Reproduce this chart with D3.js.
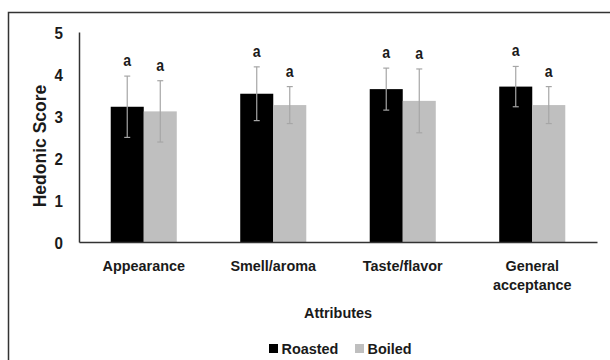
<!DOCTYPE html>
<html lang="en">
<head>
<meta charset="UTF-8">
<title>Hedonic Score</title>
<script src="https://d3js.org/d3.v7.min.js"></script>
<style>
  body { margin: 0; background: #fff; }
  text { font-family: "Liberation Sans", Arial, sans-serif; font-weight: bold; fill: #1a1a1a; }
</style>
</head>
<body>
<div id="chart"></div>
<script>
// data
var attributes = ["Appearance", "Smell/aroma", "Taste/flavor", "General acceptance"];
var series = ["Roasted", "Boiled"];
var roasted = [3.22, 3.53, 3.64, 3.70];
var roastedErr = [0.73, 0.64, 0.50, 0.48];
var boiled = [3.11, 3.26, 3.36, 3.26];
var boiledErr = [0.73, 0.44, 0.76, 0.44];
var letters = [["a", "a"], ["a", "a"], ["a", "a"], ["a", "a"]];
var yTicks = [0, 1, 2, 3, 4, 5];

var W = 610, H = 360;
var margin = {top: 32, right: 13, bottom: 118, left: 79},
  width = W - margin.left - margin.right,
  height = H - margin.top - margin.bottom;

// slightly narrowed text (the original font is a narrow Arial)
function addText(parent, x, y, str, size, anchor, sx) {
  return parent.append("text")
    .attr("transform", "translate(" + x + "," + y + ") scale(" + (sx || 0.93) + ",1)")
    .attr("text-anchor", anchor || "middle")
    .style("font-size", size + "px")
    .text(str);
}

var svg = d3.select("#chart").append("svg")
  .attr("width", W)
  .attr("height", H);

// frame (only top and left edges visible)
svg.append("path")
  .attr("d", "M8.5,360 V12.5 H610")
  .attr("fill", "none")
  .attr("stroke", "#333")
  .attr("stroke-width", 1.5);

var g = svg.append("g")
  .attr("transform", "translate(" + margin.left + "," + margin.top + ")");

var x = d3.scaleBand().domain(attributes).range([0, width]).paddingInner(0.49).paddingOuter(0.245);
var xs = d3.scaleBand().domain(series).range([0, x.bandwidth()]);
var y = d3.scaleLinear().domain([0, 5]).range([height, 0]);
var colors = {Roasted: "#000000", Boiled: "#bfbfbf"};

var rows = [];
attributes.forEach(function(a, i) {
  rows.push({attr: a, s: "Roasted", v: roasted[i], e: roastedErr[i], l: letters[i][0]});
  rows.push({attr: a, s: "Boiled", v: boiled[i], e: boiledErr[i], l: letters[i][1]});
});

// bars
g.selectAll(".bar").data(rows).enter().append("rect")
  .attr("x", function(d) { return x(d.attr) + xs(d.s); })
  .attr("y", function(d) { return y(d.v); })
  .attr("width", xs.bandwidth())
  .attr("height", function(d) { return height - y(d.v); })
  .attr("fill", function(d) { return colors[d.s]; });

// error bars
var eb = g.selectAll(".err").data(rows).enter().append("g")
  .attr("stroke", "#a6a6a6").attr("stroke-width", 1.2);
var cx = function(d) { return x(d.attr) + xs(d.s) + xs.bandwidth() / 2; };
eb.append("line")
  .attr("x1", cx).attr("x2", cx)
  .attr("y1", function(d) { return y(d.v + d.e); })
  .attr("y2", function(d) { return y(d.v - d.e); });
eb.append("line")
  .attr("x1", function(d) { return cx(d) - 3; }).attr("x2", function(d) { return cx(d) + 3; })
  .attr("y1", function(d) { return y(d.v + d.e); }).attr("y2", function(d) { return y(d.v + d.e); });
eb.append("line")
  .attr("x1", function(d) { return cx(d) - 3; }).attr("x2", function(d) { return cx(d) + 3; })
  .attr("y1", function(d) { return y(d.v - d.e); }).attr("y2", function(d) { return y(d.v - d.e); });

// significance letters
rows.forEach(function(d) {
  addText(g, cx(d), y(d.v + d.e) - 10, d.l, 16, "middle", 0.88);
});

// y axis
var yAxis = g.append("g")
  .call(d3.axisLeft(y).tickValues(yTicks).tickSize(0).tickFormat(d3.format("d")));
yAxis.select(".domain").attr("stroke", "#333").attr("stroke-width", 1.5);
yAxis.selectAll("text").remove();
yAxis.selectAll(".tick").each(function(d) {
  addText(d3.select(this), -16, 6, d, 16, "end", 0.95);
});

// x axis
var xAxis = g.append("g")
  .attr("transform", "translate(0," + height + ")")
  .call(d3.axisBottom(x).tickSize(0));
xAxis.select(".domain").attr("stroke", "#333").attr("stroke-width", 1.5);
xAxis.selectAll("text").remove();
xAxis.selectAll(".tick").each(function(d) {
  var words = d === "General acceptance" ? ["General", "acceptance"] : [d];
  var t = d3.select(this);
  words.forEach(function(w, i) {
    addText(t, 0, 28.5 + i * 19.5, w, 15.5);
  });
});

// axis titles
addText(g, width / 2, height + 76, "Attributes", 15.5);
svg.append("text")
  .attr("transform", "translate(46,146) rotate(-90)")
  .attr("text-anchor", "middle")
  .style("font-size", "17.5px")
  .text("Hedonic Score");

// legend
var leg = svg.append("g").attr("transform", "translate(269,354)");
var lx = [0, 86];
series.forEach(function(s, i) {
  leg.append("rect").attr("x", lx[i]).attr("y", -10).attr("width", 9).attr("height", 9).attr("fill", colors[s]);
  addText(leg, lx[i] + 12.5, 0, s, 15.5, "start");
});
</script>
</body>
</html>
